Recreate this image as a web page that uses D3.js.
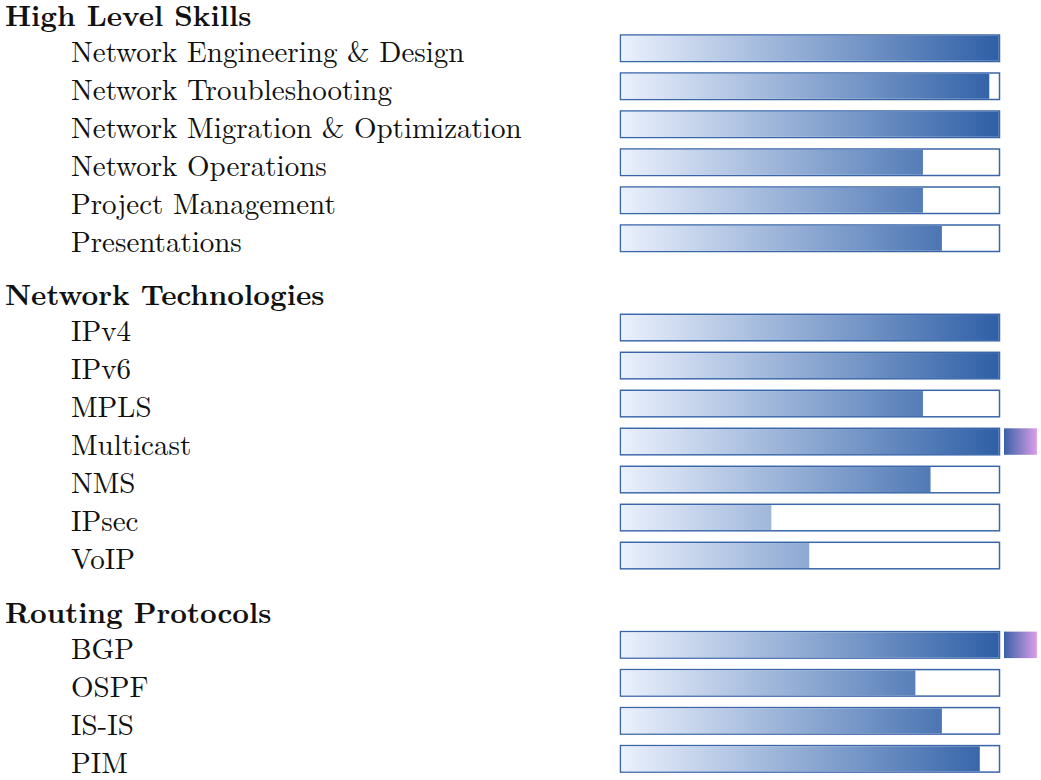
<!DOCTYPE html>
<html>
<head>
<meta charset="utf-8">
<script src="https://cdn.jsdelivr.net/npm/d3@7"></script>
<style>
  body { margin: 0; background: #fff; }
  text { font-family: "Latin Modern Roman", "CMU Serif", "Liberation Serif", serif; fill: #111; }
</style>
</head>
<body>
<svg id="vis" width="1041" height="780"></svg>
<script>
// skill groups and their items
var groups = ["High Level Skills", "Network Technologies", "Routing Protocols"];
var skills = [
  "Network Engineering & Design", "Network Troubleshooting", "Network Migration & Optimization",
  "Network Operations", "Project Management", "Presentations",
  "IPv4", "IPv6", "MPLS", "Multicast", "NMS", "IPsec", "VoIP",
  "BGP", "OSPF", "IS-IS", "PIM"
];
var skillGroup = [0, 0, 0, 0, 0, 0, 1, 1, 1, 1, 1, 1, 1, 2, 2, 2, 2];
// level as fraction of full bar, > 1 means overflow
var levels = [1.0, 0.975, 1.0, 0.8, 0.8, 0.85,
              1.0, 1.0, 0.8, 1.1, 0.82, 0.4, 0.5,
              1.1, 0.78, 0.85, 0.95];

var vis = d3.select("#vis"),
  GROUP_GAP = 1.35,
  BAR_H = 26.5;

// scales
var xScale = d3.scaleLinear().domain([0, 1]).range([620.5, 999.5]);
var yScale = d3.scaleLinear().domain([0, 1]).range([62, 100]); // slot -> baseline

var rows = skills.map(function(s, i) {
  return { name: s, group: skillGroup[i], value: levels[i], slot: i + skillGroup[i] * GROUP_GAP };
});
var heads = groups.map(function(g, gi) {
  var first = rows.filter(function(r) { return r.group === gi; })[0];
  return { name: g, slot: first.slot - 0.95 };
});

// gradients
var defs = vis.append("defs");
var grad = defs.append("linearGradient")
  .attr("id", "barGrad")
  .attr("gradientUnits", "userSpaceOnUse")
  .attr("x1", xScale(0)).attr("x2", xScale(1)).attr("y1", 0).attr("y2", 0);
grad.append("stop").attr("offset", "0%").attr("stop-color", "#ebf1fd");
grad.append("stop").attr("offset", "100%").attr("stop-color", "#2e5fa6");

var grad2 = defs.append("linearGradient").attr("id", "overGrad");
grad2.append("stop").attr("offset", "0%").attr("stop-color", "#3862a8");
grad2.append("stop").attr("offset", "100%").attr("stop-color", "#dc9de8");

// headers
vis.selectAll("text.head")
  .data(heads)
  .enter().append("text")
  .attr("class", "head")
  .attr("x", 5)
  .attr("y", function(d) { return yScale(d.slot); })
  .attr("font-size", 29)
  .attr("font-weight", "bold")
  .text(function(d) { return d.name; });

// labels
vis.selectAll("text.label")
  .data(rows)
  .enter().append("text")
  .attr("class", "label")
  .attr("x", 71)
  .attr("y", function(d) { return yScale(d.slot); })
  .attr("font-size", 29)
  .text(function(d) { return d.name; });

var bar = vis.selectAll("g.bar")
  .data(rows)
  .enter().append("g")
  .attr("class", "bar")
  .attr("transform", function(d) { return "translate(0," + (yScale(d.slot) - 27) + ")"; });

// frame
bar.append("rect")
  .attr("x", xScale(0))
  .attr("y", 0)
  .attr("width", xScale(1) - xScale(0))
  .attr("height", BAR_H)
  .attr("fill", "#fff")
  .attr("stroke", "#3a66a9")
  .attr("stroke-width", 1.5);

// filled part
bar.append("rect")
  .attr("x", xScale(0) + 0.75)
  .attr("y", 0.75)
  .attr("width", function(d) { return xScale(Math.min(d.value, 1)) - xScale(0) - 1.5; })
  .attr("height", BAR_H - 1.5)
  .attr("fill", "url(#barGrad)");

// overflow piece
bar.filter(function(d) { return d.value > 1; })
  .append("rect")
  .attr("x", xScale(1) + 4.5)
  .attr("y", 0)
  .attr("width", function(d) { return xScale(d.value) - xScale(1) - 5; })
  .attr("height", BAR_H)
  .attr("fill", "url(#overGrad)");
</script>
</body>
</html>
